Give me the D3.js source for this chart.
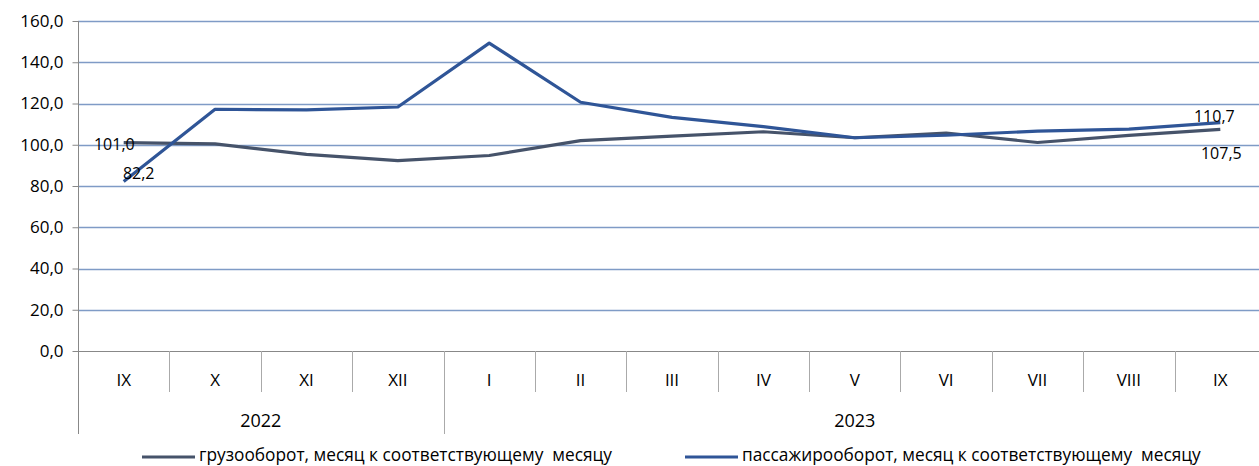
<!DOCTYPE html>
<html>
<head>
<meta charset="utf-8">
<script src="https://cdn.jsdelivr.net/npm/d3@7"></script>
<style>
  body { margin: 0; background: #fff; }
  text { font-family: "Open Sans", "Liberation Sans", sans-serif; fill: #000; }
</style>
</head>
<body>
<script>
const months = ["IX", "X", "XI", "XII", "I", "II", "III", "IV", "V", "VI", "VII", "VIII", "IX"];
const years = [
  { label: "2022", from: 0, to: 4 },
  { label: "2023", from: 4, to: 13 },
];
const cargo = [101.0, 100.4, 95.3, 92.3, 94.8, 102.0, 104.2, 106.3, 103.4, 105.7, 101.1, 104.5, 107.5];
const passengers = [82.2, 117.2, 116.9, 118.3, 149.3, 120.6, 113.3, 108.8, 103.4, 104.6, 106.6, 107.6, 110.7];
const yTicks = [0, 20, 40, 60, 80, 100, 120, 140, 160];
const seriesNames = [
  "грузооборот, месяц к соответствующему  месяцу",
  "пассажирооборот, месяц к соответствующему  месяцу",
];

const width = 1259;
const height = 466;
const plotLeft = 78;
const plotRight = 1266;
const plotTop = 21;
const plotBottom = 351;

const fmt = (v) => v.toFixed(1).replace(".", ",");

const svg = d3
  .select("body")
  .append("svg")
  .attr("width", width)
  .attr("height", height);

const x = d3
  .scaleBand()
  .domain(d3.range(months.length))
  .range([plotLeft, plotRight]);

const y = d3.scaleLinear().domain([0, 160]).range([plotBottom, plotTop]);

// Gridlines
svg
  .append("g")
  .selectAll("line")
  .data(yTicks.filter((d) => d > 0))
  .enter()
  .append("line")
  .attr("x1", plotLeft)
  .attr("x2", width)
  .attr("y1", (d) => Math.round(y(d)) + 0.5)
  .attr("y2", (d) => Math.round(y(d)) + 0.5)
  .attr("stroke", "#7f9bc6")
  .attr("stroke-width", 1.3);

// Y axis
const yAxis = d3
  .axisLeft(y)
  .tickValues(yTicks)
  .tickSize(6)
  .tickPadding(9)
  .tickFormat(fmt);

const yAxisEl = svg
  .append("g")
  .attr("transform", `translate(${plotLeft + 0.5}, 0)`)
  .call(yAxis);
yAxisEl.select(".domain").remove();
yAxisEl.selectAll("line").attr("stroke", "#888");
yAxisEl.selectAll("text").style("font-size", "17px").attr("fill", "#000");

// axis lines
svg
  .append("line")
  .attr("x1", plotLeft + 0.5)
  .attr("x2", plotLeft + 0.5)
  .attr("y1", plotTop)
  .attr("y2", 434)
  .attr("stroke", "#888");

svg
  .append("line")
  .attr("x1", plotLeft)
  .attr("x2", width)
  .attr("y1", plotBottom + 0.5)
  .attr("y2", plotBottom + 0.5)
  .attr("stroke", "#888");

// Category separators
svg
  .append("g")
  .selectAll("line")
  .data(d3.range(1, months.length))
  .enter()
  .append("line")
  .attr("x1", (i) => Math.round(x(i)) + 0.5)
  .attr("x2", (i) => Math.round(x(i)) + 0.5)
  .attr("y1", plotBottom)
  .attr("y2", (i) => (years.some((yr) => yr.from === i) ? 434 : 392))
  .attr("stroke", "#aaa");

svg
  .append("g")
  .selectAll("text")
  .data(months)
  .enter()
  .append("text")
  .attr("x", (d, i) => x(i) + x.bandwidth() / 2)
  .attr("y", 386)
  .attr("text-anchor", "middle")
  .style("font-size", "17px")
  .text((d) => d);

svg
  .append("g")
  .selectAll("text")
  .data(years)
  .enter()
  .append("text")
  .attr("x", (d) => (x(d.from) + x(d.to - 1) + x.bandwidth()) / 2)
  .attr("y", 427)
  .attr("text-anchor", "middle")
  .style("font-size", "18px")
  .text((d) => d.label);

// Lines
const line = d3
  .line()
  .x((d, i) => x(i) + x.bandwidth() / 2)
  .y((d) => y(d));

const colors = ["#46536a", "#2f5597"];

[cargo, passengers].forEach((series, k) => {
  svg
    .append("path")
    .datum(series)
    .attr("d", line)
    .attr("fill", "none")
    .attr("stroke", colors[k])
    .attr("stroke-width", 3.2)
    .attr("stroke-linejoin", "round");
});

// Data labels
const last = months.length - 1;
const cx = (i) => x(i) + x.bandwidth() / 2;
const labels = [
  { v: cargo[0], x: cx(0) + 11, y: y(cargo[0]) + 7, anchor: "end" },
  { v: passengers[0], x: cx(0) + 15, y: y(passengers[0]) - 2.5, anchor: "middle" },
  { v: passengers[last], x: cx(last) - 6, y: y(passengers[last]) - 1, anchor: "middle" },
  { v: cargo[last], x: cx(last) + 1, y: y(cargo[last]) + 29.5, anchor: "middle" },
];

svg
  .append("g")
  .selectAll("text")
  .data(labels)
  .enter()
  .append("text")
  .attr("x", (d) => d.x)
  .attr("y", (d) => d.y)
  .attr("text-anchor", (d) => d.anchor)
  .style("font-size", "16px")
  .text((d) => fmt(d.v));

// Legend
const legend = svg.append("g");
const legendX = [142, 685];

legend
  .selectAll("line")
  .data(seriesNames)
  .enter()
  .append("line")
  .attr("x1", (d, i) => legendX[i])
  .attr("x2", (d, i) => legendX[i] + 53)
  .attr("y1", 457)
  .attr("y2", 457)
  .attr("stroke", (d, i) => colors[i])
  .attr("stroke-width", 3);

legend
  .selectAll("text")
  .data(seriesNames)
  .enter()
  .append("text")
  .attr("x", (d, i) => legendX[i] + 57)
  .attr("y", 461)
  .style("font-size", "17.3px")
  .attr("xml:space", "preserve")
  .text((d) => d);
</script>
</body>
</html>
